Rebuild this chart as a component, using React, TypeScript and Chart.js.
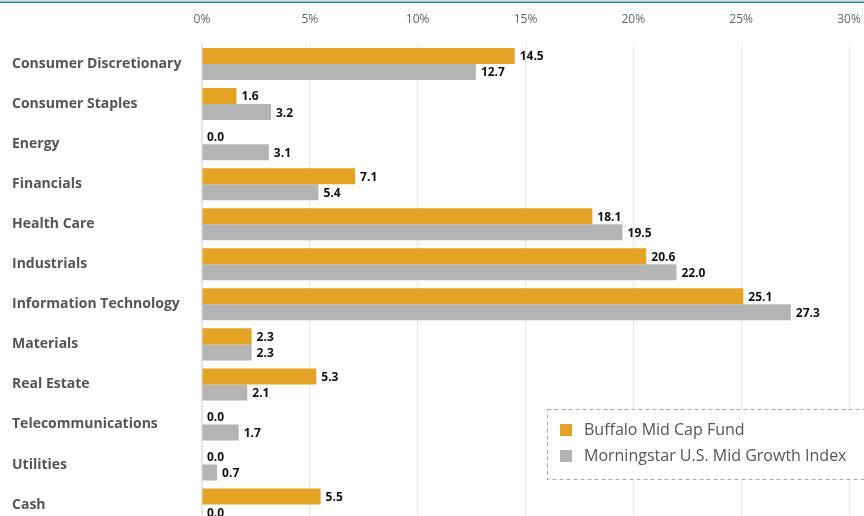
import React, { useEffect, useRef } from "react";
import { Chart, registerables } from "chart.js";

Chart.register(...registerables);

const categories = [
  "Consumer Discretionary",
  "Consumer Staples",
  "Energy",
  "Financials",
  "Health Care",
  "Industrials",
  "Information Technology",
  "Materials",
  "Real Estate",
  "Telecommunications",
  "Utilities",
  "Cash",
];
const fundValues = [14.5, 1.6, 0.0, 7.1, 18.1, 20.6, 25.1, 2.3, 5.3, 0.0, 0.0, 5.5];
const indexValues = [12.7, 3.2, 3.1, 5.4, 19.5, 22.0, 27.3, 2.3, 2.1, 1.7, 0.7, 0.0];
const seriesNames = ["Buffalo Mid Cap Fund", "Morningstar U.S. Mid Growth Index"];
const seriesColors = ["#E5A325", "#B4B4B4"];
const FONT = "'Open Sans', 'Noto Sans', sans-serif";

const W = 864;
const H = 536;

const decorPlugin = {
  id: "decor",
  beforeDraw(chart: any) {
    const ctx = chart.ctx;
    ctx.save();
    ctx.fillStyle = "#e3e3e3";
    ctx.fillRect(0, 0, W, 1.5);
    ctx.fillStyle = "#1f9488";
    ctx.fillRect(0, 1.5, W, 1.5);
    ctx.restore();
  },
  afterDatasetsDraw(chart: any) {
    const ctx = chart.ctx;
    ctx.save();
    ctx.font = `bold 12px ${FONT}`;
    ctx.fillStyle = "#111111";
    ctx.textBaseline = "middle";
    ctx.textAlign = "left";
    chart.data.datasets.forEach((ds: any, di: number) => {
      const meta = chart.getDatasetMeta(di);
      meta.data.forEach((bar: any, i: number) => {
        const v = ds.data[i];
        ctx.fillText(v.toFixed(1), bar.x + 5, bar.y + 1);
      });
    });
    // legend box
    const bx = 547.5, by = 409.5, bw = 330, bh = 70;
    ctx.setLineDash([4, 3]);
    ctx.strokeStyle = "#aaaaaa";
    ctx.lineWidth = 1;
    ctx.fillStyle = "rgba(255,255,255,1)";
    ctx.fillRect(bx, by, bw, bh);
    ctx.strokeRect(bx, by, bw, bh);
    ctx.setLineDash([]);
    ctx.font = `16px ${FONT}`;
    seriesNames.forEach((name, i) => {
      const cy = 430 + i * 26;
      ctx.fillStyle = seriesColors[i];
      ctx.fillRect(560, cy - 6, 12, 12);
      ctx.fillStyle = "#555555";
      ctx.fillText(name, 584, cy);
    });
    ctx.restore();
  },
};

export default function App() {
  const ref = useRef<HTMLCanvasElement | null>(null);
  useEffect(() => {
    if (!ref.current) return;
    const chart = new Chart(ref.current, {
      type: "bar",
      data: {
        labels: categories,
        datasets: [
          {
            label: seriesNames[0],
            data: fundValues,
            backgroundColor: seriesColors[0],
            categoryPercentage: 0.8,
            barPercentage: 1.0,
          },
          {
            label: seriesNames[1],
            data: indexValues,
            backgroundColor: seriesColors[1],
            categoryPercentage: 0.8,
            barPercentage: 1.0,
          },
        ],
      },
      options: {
        indexAxis: "y",
        responsive: false,
        animation: false,
        devicePixelRatio: 1,
        layout: { padding: { top: 3, right: 15, bottom: 2, left: 12 } },
        plugins: {
          legend: { display: false },
          tooltip: { enabled: false },
        },
        scales: {
          x: {
            position: "top",
            min: 0,
            max: 30,
            afterFit: (s: any) => {
              s.height = 41;
              s.paddingRight = 0;
              s.paddingLeft = 0;
            },
            ticks: {
              stepSize: 5,
              padding: 17,
              color: "#666666",
              font: { family: FONT, size: 12 },
              callback: (v: any) => `${v}%`,
            },
            grid: { color: "#e8e8e8", drawTicks: false },
            border: { display: false },
          },
          y: {
            afterFit: (s: any) => {
              s.width = 190;
            },
            ticks: {
              crossAlign: "far",
              color: "#555555",
              font: { family: FONT, size: 14, weight: "bold" },
            },
            grid: { display: false, drawTicks: false },
            border: { display: true, color: "#e2e2ec", width: 1.5 },
          },
        },
      },
      plugins: [decorPlugin],
    } as any);
    return () => chart.destroy();
  }, []);
  return (
    <div style={{ position: "fixed", left: 0, top: 0, width: 864, height: 516, overflow: "hidden", background: "#fff" }}>
      <canvas ref={ref} width={W} height={H} style={{ display: "block" }} />
    </div>
  );
}
